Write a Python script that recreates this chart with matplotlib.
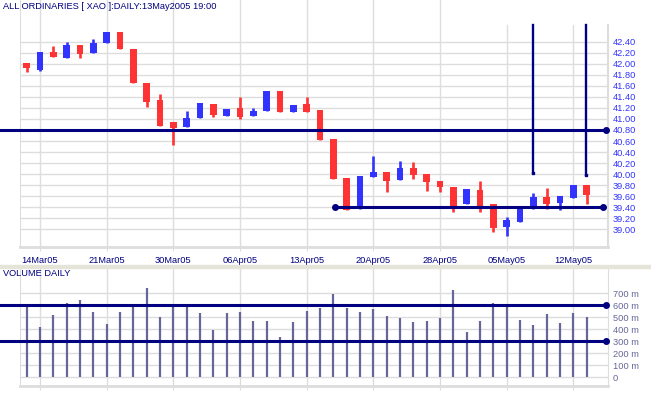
import matplotlib
matplotlib.use("Agg")
import matplotlib.pyplot as plt
import numpy as np

plt.rcParams['font.family'] = ['Liberation Sans', 'DejaVu Sans']

# datos diarios (11 Mar 2005 - 13 May 2005)
dates = ['11Mar05', '14Mar05', '15Mar05', '16Mar05', '17Mar05', '18Mar05',
         '21Mar05', '22Mar05', '23Mar05', '24Mar05', '29Mar05', '30Mar05',
         '31Mar05', '01Apr05', '04Apr05', '05Apr05', '06Apr05', '07Apr05',
         '08Apr05', '11Apr05', '12Apr05', '13Apr05', '14Apr05', '15Apr05',
         '18Apr05', '19Apr05', '20Apr05', '21Apr05', '22Apr05', '26Apr05',
         '27Apr05', '28Apr05', '29Apr05', '02May05', '03May05', '04May05',
         '05May05', '06May05', '09May05', '10May05', '11May05', '12May05',
         '13May05']

opens = [42.01, 41.89, 42.21, 42.11, 42.34, 42.20, 42.38, 42.58, 42.27, 41.65,
         41.34, 40.95, 40.86, 41.02, 41.28, 41.05, 41.19, 41.05, 41.15, 41.51,
         41.13, 41.28, 41.16, 40.64, 39.93, 39.37, 39.95, 40.03, 39.89, 40.12,
         40.00, 39.88, 39.76, 39.45, 39.71, 39.46, 39.04, 39.13, 39.36, 39.59,
         39.47, 39.57, 39.80]
highs = [42.01, 42.21, 42.32, 42.39, 42.34, 42.45, 42.58, 42.58, 42.27, 41.65,
         41.45, 40.95, 41.14, 41.29, 41.28, 41.18, 41.40, 41.19, 41.51, 41.51,
         41.25, 41.40, 41.16, 40.64, 39.93, 39.97, 40.33, 40.03, 40.24, 40.22,
         40.00, 39.88, 39.76, 39.73, 39.88, 39.46, 39.23, 39.42, 39.66, 39.75,
         39.61, 39.80, 39.80]
lows = [41.86, 41.87, 42.13, 42.11, 42.11, 42.20, 42.38, 42.27, 41.66, 41.22,
        40.88, 40.53, 40.86, 41.02, 41.04, 41.05, 41.00, 41.05, 41.15, 41.13,
        41.13, 41.12, 40.62, 39.91, 39.35, 39.37, 39.95, 39.68, 39.89, 39.91,
        39.70, 39.68, 39.32, 39.45, 39.32, 38.96, 38.87, 39.13, 39.36, 39.37,
        39.35, 39.57, 39.46]
closes = [41.93, 42.21, 42.13, 42.34, 42.17, 42.38, 42.58, 42.27, 41.66, 41.31,
          40.88, 40.83, 41.02, 41.29, 41.08, 41.18, 41.04, 41.14, 41.51, 41.13,
          41.25, 41.12, 40.62, 39.91, 39.35, 39.97, 40.03, 39.88, 40.12, 39.98,
          39.86, 39.76, 39.40, 39.73, 39.40, 39.03, 39.17, 39.42, 39.59, 39.46,
          39.61, 39.80, 39.63]

# volumen en millones
volumes = [588, 422, 519, 622, 644, 547, 444, 547, 594, 747, 505, 611, 588,
           539, 394, 539, 547, 469, 469, 339, 464, 553, 580, 697, 580, 547,
           572, 511, 497, 464, 472, 497, 728, 380, 472, 622, 588, 478, 436,
           528, 450, 539, 505]

# lineas dibujadas sobre el grafico
resistance = 40.80
support = 39.40
support_start = 23.1
vline_days = [38.0, 41.93]
vline_bottom = [40.02, 39.99]
vline_top = 42.70
vol_levels = [600, 300]

label_days = [1, 6, 11, 16, 21, 26, 31, 36, 41]
price_ticks = np.round(np.arange(39.0, 42.41, 0.2), 2)
vol_ticks = [0, 100, 200, 300, 400, 500, 600, 700]
vol_labels = ['0', '100 m', '200 m', '300 m', '400 m', '500 m', '600 m', '700 m']

RED = '#ff3333'
BLUE = '#3333ff'
NAVY = '#000080'
GRID = '#dddddd'
VOLC = '#666699'
FS = 6.7

W, H = 651, 395
fig = plt.figure(figsize=(W / 100, H / 100), dpi=100)
fig.patch.set_facecolor('white')

ax = fig.add_axes([20 / W, 1 - 246.7 / H, 588 / W, 246.7 / H])
axv = fig.add_axes([20 / W, 1 - 385.7 / H, 588 / W, (385.7 - 268) / H])

x = np.arange(len(dates))
o = np.array(opens)
c = np.array(closes)
colors = [BLUE if cc >= oo else RED for oo, cc in zip(o, c)]

ax.set_xlim(-0.5, 43.6)
ax.set_ylim(38.685, 43.156)

# rejilla vertical (las dos ultimas empiezan mas abajo, como en el original)
for d in label_days:
    top = vline_top if d >= 36 else 43.156
    ax.plot([d, d], [38.685, top], color=GRID, lw=1, zorder=1)
ax.plot([43.6, 43.6], [38.685, vline_top], color=GRID, lw=1.5, zorder=1, clip_on=False)

# velas
ax.vlines(x, lows, highs, colors=colors, lw=1.9, zorder=3)
body_bottom = np.minimum(o, c)
body_h = np.maximum(np.abs(c - o), 0.09)
ax.bar(x, body_h, bottom=body_bottom, width=0.52, color=colors, zorder=4)

ax.yaxis.tick_right()
ax.set_yticks(price_ticks)
ax.set_yticklabels(['%.2f' % t for t in price_ticks])
ax.set_xticks(label_days)
ax.set_xticklabels([dates[i] for i in label_days])
ax.tick_params(axis='y', length=0, pad=3.5, labelsize=FS, labelcolor=BLUE)
ax.tick_params(axis='x', length=3, color=GRID, pad=4, labelsize=FS, labelcolor=NAVY)
ax.grid(True, axis='y', color=GRID, lw=1)
ax.set_axisbelow(True)
ax.spines['top'].set_visible(False)
ax.spines['right'].set_visible(False)
ax.spines['left'].set_color(GRID)
ax.spines['bottom'].set_color(GRID)
ax.spines['bottom'].set_linewidth(2)

# lineas de soporte / resistencia
ax.plot([-2, 43.45], [resistance, resistance], color=NAVY, lw=2.2, clip_on=False, zorder=5)
ax.plot([43.45], [resistance], 'o', color=NAVY, ms=4, clip_on=False, zorder=5)
ax.plot([support_start, 43.2], [support, support], color=NAVY, lw=2.2, marker='o', ms=4,
        clip_on=False, zorder=5)
for d, b in zip(vline_days, vline_bottom):
    ax.plot([d, d], [vline_top, b], color=NAVY, lw=1.7, zorder=5)
    ax.plot([d], [b], 's', color=NAVY, ms=2, zorder=5)

# volumen
axv.vlines(x, 0, volumes, colors=VOLC, lw=1.6, zorder=3)
axv.set_xlim(-0.5, 43.6)
axv.set_ylim(-70, 911)
axv.yaxis.tick_right()
axv.set_yticks(vol_ticks)
axv.set_yticklabels(vol_labels)
axv.set_xticks(label_days)
axv.set_xticklabels([])
axv.tick_params(axis='y', length=0, pad=3.5, labelsize=FS, labelcolor=VOLC)
axv.tick_params(axis='x', length=3, color=GRID)
axv.grid(True, color=GRID, lw=1)
axv.set_axisbelow(True)
axv.spines['top'].set_visible(False)
axv.spines['left'].set_color(GRID)
axv.spines['right'].set_color(GRID)
axv.spines['bottom'].set_color(GRID)
axv.spines['bottom'].set_linewidth(2)
for lv in vol_levels:
    axv.plot([-2, 43.45], [lv, lv], color=NAVY, lw=2.2, clip_on=False, zorder=5)
    axv.plot([43.45], [lv], 'o', color=NAVY, ms=4, clip_on=False, zorder=5)

# separador entre paneles
fig.patches.append(plt.Rectangle((0, 1 - 268 / H), 1, 3 / H, transform=fig.transFigure,
                                 color='#e4e4d8', zorder=0))

fig.text(3 / W, 1 - 6.5 / H, 'ALL ORDINARIES [ XAO ]:DAILY:13May2005 19:00',
         fontsize=FS, color=NAVY, va='center', ha='left')
fig.text(3 / W, 1 - 273 / H, 'VOLUME DAILY', fontsize=FS, color=NAVY, va='center', ha='left')

fig.savefig('out.png', dpi=100)
